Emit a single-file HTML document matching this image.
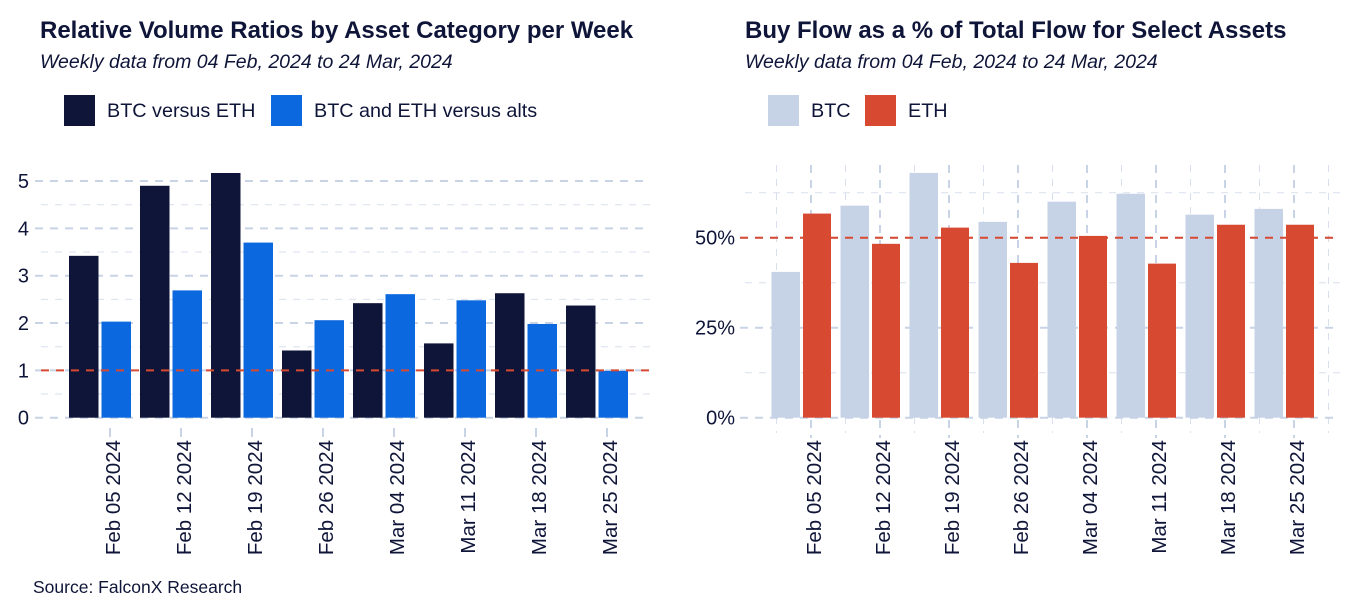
<!DOCTYPE html>
<html><head><meta charset="utf-8"><style>
body{margin:0;background:#fff}
svg{display:block;font-family:"Liberation Sans",sans-serif}
</style></head><body>
<svg id="s" width="1350" height="600" viewBox="0 0 1350 600" xmlns="http://www.w3.org/2000/svg">
<text x="40" y="38" font-size="24" font-weight="bold" fill="#0f1538">Relative Volume Ratios by Asset Category per Week</text>
<text x="40" y="68" font-size="19.5" font-style="italic" fill="#0f1538">Weekly data from 04 Feb, 2024 to 24 Mar, 2024</text>
<rect x="64" y="95" width="31" height="31" fill="#0f1538"/>
<text x="107" y="117" font-size="19.8" fill="#0f1538">BTC versus ETH</text>
<rect x="271" y="95" width="31" height="31" fill="#0b68de"/>
<text x="314" y="117" font-size="19.8" fill="#0f1538">BTC and ETH versus alts</text>
<text x="745" y="38" font-size="24" font-weight="bold" fill="#0f1538">Buy Flow as a % of Total Flow for Select Assets</text>
<text x="745" y="68" font-size="19.5" font-style="italic" fill="#0f1538">Weekly data from 04 Feb, 2024 to 24 Mar, 2024</text>
<rect x="768" y="95" width="31" height="31" fill="#c6d3e6"/>
<text x="811" y="117" font-size="19.8" fill="#0f1538">BTC</text>
<rect x="865" y="95" width="31" height="31" fill="#d74a31"/>
<text x="908" y="117" font-size="19.8" fill="#0f1538">ETH</text>
<text x="33" y="593" font-size="17.5" fill="#0f1538">Source: FalconX Research</text>
<g id="L"></g><g id="R"></g>
</svg>
<script>
const weeks=["Feb 05 2024","Feb 12 2024","Feb 19 2024","Feb 26 2024","Mar 04 2024","Mar 11 2024","Mar 18 2024","Mar 25 2024"];
const btcVsEth=[3.42,4.9,5.17,1.42,2.42,1.57,2.63,2.37];
const majorsVsAlts=[2.03,2.69,3.7,2.06,2.61,2.48,1.98,0.99];
const leftTicks=[0,1,2,3,4,5];
const btcBuy=[40.5,58.9,68,54.4,60,62.2,56.4,58];
const ethBuy=[56.7,48.3,52.8,43,50.5,42.8,53.6,53.6];
const rightTicks=[0,25,50];
const NS="http://www.w3.org/2000/svg";
function mk(p,t,a){const e=document.createElementNS(NS,t);for(const k in a)e.setAttribute(k,a[k]);p.appendChild(e);return e;}
const GRID="#c8d3e6";
const L=document.getElementById('L');
const ly=v=>417.7-v*47.33, lx=i=>100+i*71;
for(let v=0.5;v<5;v+=1){const g=mk(L,'line',{x1:41,x2:650,y1:ly(v),y2:ly(v),stroke:GRID,'stroke-width':1,'stroke-dasharray':'7 7',opacity:0.7});

}
leftTicks.forEach(v=>{const g=mk(L,'line',{x1:35,x2:650,y1:ly(v),y2:ly(v),stroke:GRID,'stroke-width':2,'stroke-dasharray':'8 7'});


const t=mk(L,'text',{x:29,y:ly(v)+7,'font-size':20,fill:'#0f1538','text-anchor':'end'});t.textContent=v;

});
weeks.forEach((w,i)=>{const c=lx(i);
const a=mk(L,'rect',{x:c-31,y:ly(btcVsEth[i]),width:29.5,height:ly(0)-ly(btcVsEth[i]),fill:'#0f1538'});


const b=mk(L,'rect',{x:c+1.5,y:ly(majorsVsAlts[i]),width:29.5,height:ly(0)-ly(majorsVsAlts[i]),fill:'#0b68de'});


const tk=mk(L,'line',{x1:c+10,x2:c+10,y1:428,y2:437,stroke:GRID,'stroke-width':2});


const t=mk(L,'text',{x:0,y:0,'font-size':20.5,fill:'#0f1538','text-anchor':'end',transform:`translate(${c+20},440) rotate(-90)`});t.textContent=w;

});
const lr=mk(L,'line',{x1:41,x2:650,y1:ly(1),y2:ly(1),stroke:'#d74a31','stroke-width':2,'stroke-dasharray':'8 7'});


const R=document.getElementById('R');
const ry=v=>417.7-v*3.6, rx=i=>801+i*69;
for(let v=12.5;v<65;v+=25){const g=mk(R,'line',{x1:745,x2:1340,y1:ry(v),y2:ry(v),stroke:GRID,'stroke-width':1,'stroke-dasharray':'7 7',opacity:0.7});

}
for(let i=0;i<=8;i++){const x=rx(i)-24.5;const g=mk(R,'line',{x1:x,x2:x,y1:165,y2:433,stroke:GRID,'stroke-width':1,'stroke-dasharray':'7 7',opacity:0.7});

}
weeks.forEach((w,i)=>{const x=rx(i)+10;const g=mk(R,'line',{x1:x,x2:x,y1:165,y2:438,stroke:GRID,'stroke-width':2,'stroke-dasharray':'8 7'});

});
rightTicks.forEach(v=>{const g=mk(R,'line',{x1:740,x2:1340,y1:ry(v),y2:ry(v),stroke:GRID,'stroke-width':2,'stroke-dasharray':'8 7'});


const t=mk(R,'text',{x:735,y:ry(v)+7,'font-size':20,fill:'#0f1538','text-anchor':'end'});t.textContent=v+'%';

});
weeks.forEach((w,i)=>{const c=rx(i);
const a=mk(R,'rect',{x:c-29.5,y:ry(btcBuy[i]),width:28.5,height:ry(0)-ry(btcBuy[i]),fill:'#c6d3e6'});


const b=mk(R,'rect',{x:c+2,y:ry(ethBuy[i]),width:28,height:ry(0)-ry(ethBuy[i]),fill:'#d74a31'});


const t=mk(R,'text',{x:0,y:0,'font-size':20.5,fill:'#0f1538','text-anchor':'end',transform:`translate(${c+20},440) rotate(-90)`});t.textContent=w;

});
const rr=mk(R,'line',{x1:740,x2:1340,y1:ry(50),y2:ry(50),stroke:'#d74a31','stroke-width':2,'stroke-dasharray':'8 7'});


</script>
</body></html>
